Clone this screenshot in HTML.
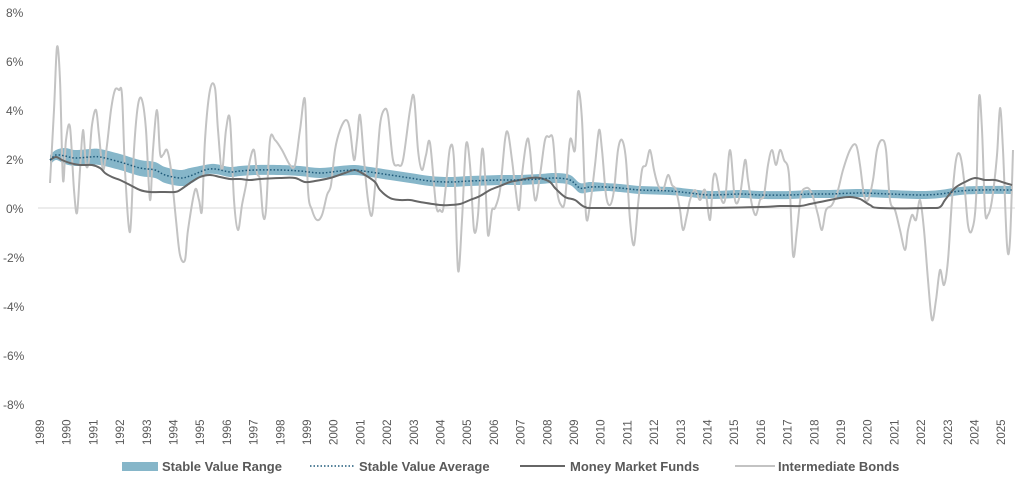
<!DOCTYPE html>
<html><head><meta charset="utf-8"><style>
body{margin:0;background:#fff;width:1024px;height:482px;overflow:hidden;font-family:"Liberation Sans",sans-serif}
</style></head><body>
<svg id="s" width="1024" height="482" xmlns="http://www.w3.org/2000/svg" font-family="Liberation Sans, sans-serif">
<g fill="#595959" font-size="12">
<text x="6" y="17">8%</text><text x="6" y="66">6%</text><text x="6" y="115">4%</text><text x="6" y="164">2%</text><text x="6" y="213">0%</text>
<text x="3" y="262">-2%</text><text x="3" y="311">-4%</text><text x="3" y="360">-6%</text><text x="3" y="409">-8%</text>
</g>
<line x1="38" y1="208" x2="1015" y2="208" stroke="#d9d9d9" stroke-width="1"/>
<g id="yrs" fill="#595959" font-size="11.5"></g>
<path id="band" fill="#86b6c9"/>
<path id="bonds" fill="none" stroke="#c3c3c3" stroke-width="2" stroke-linejoin="round"/>
<path id="mmf" fill="none" stroke="#666" stroke-width="2" stroke-linejoin="round"/>
<path id="avg" fill="none" stroke="#1f5a7a" stroke-width="1.5" stroke-dasharray="1.5,2"/>
<rect x="122" y="462" width="36" height="9" fill="#86b6c9"/>
<line x1="310" y1="466" x2="355" y2="466" stroke="#1f5a7a" stroke-width="1.5" stroke-dasharray="1.5,2"/>
<line x1="520" y1="466" x2="565" y2="466" stroke="#666" stroke-width="2"/>
<line x1="735" y1="466" x2="775" y2="466" stroke="#c3c3c3" stroke-width="2"/>
<g fill="#595959" font-size="13" font-weight="bold">
<text x="162" y="471">Stable Value Range</text>
<text x="359" y="471">Stable Value Average</text>
<text x="570" y="471">Money Market Funds</text>
<text x="778" y="471">Intermediate Bonds</text>
</g>
</svg>
<script>
(function(){
function C(a,start){var d=start?'':'M'+a[0][0]+','+a[0][1];if(start)d='L'+a[0][0]+','+a[0][1];
for(var i=0;i<a.length-1;i++){var p0=a[i-1]||a[i],p1=a[i],p2=a[i+1],p3=a[i+2]||p2;
var c1x=p1[0]+(p2[0]-p0[0])/6,c1y=p1[1]+(p2[1]-p0[1])/6,c2x=p2[0]-(p3[0]-p1[0])/6,c2y=p2[1]-(p3[1]-p1[1])/6;
d+='C'+c1x.toFixed(1)+','+c1y.toFixed(1)+' '+c2x.toFixed(1)+','+c2y.toFixed(1)+' '+p2[0]+','+p2[1];}return d;}
var bonds=[[50,183],[54,110],[57,47],[60,80],[63,180],[66,140],[70,127],[74,190],[77,213],[80,170],[83,130],[86,165],[89,160],[92,125],[96,110],[99,135],[103,170],[107,145],[111,110],[115,90],[119,90],[122,95],[125,170],[130,232],[134,150],[138,105],[142,100],[146,130],[150,200],[153,150],[157,110],[160,153],[163,155],[167,150],[171,170],[176,220],[180,255],[185,260],[188,230],[195,190],[199,200],[202,210],[205,140],[210,90],[215,88],[218,130],[222,170],[226,130],[230,120],[234,200],[238,230],[242,205],[246,185],[250,160],[254,150],[257,173],[260,180],[263,215],[266,210],[270,140],[275,140],[282,150],[290,165],[295,165],[300,130],[305,100],[308,190],[312,210],[317,220],[322,215],[327,195],[331,185],[335,150],[340,130],[346,120],[350,130],[354,160],[357,140],[360,115],[364,160],[368,200],[372,215],[376,175],[380,125],[384,110],[388,115],[393,160],[398,165],[403,160],[410,110],[414,97],[418,150],[422,170],[426,155],[430,143],[436,205],[440,210],[443,210],[446,185],[450,148],[454,160],[458,270],[462,220],[466,145],[470,165],[474,230],[478,215],[482,150],[485,175],[488,235],[492,210],[495,208],[500,190],[505,140],[508,133],[512,160],[515,185],[519,210],[522,175],[527,140],[530,150],[535,200],[540,175],[545,140],[549,137],[553,140],[557,190],[561,205],[565,200],[570,140],[575,150],[578,92],[582,120],[586,215],[590,205],[595,165],[599,130],[602,150],[606,195],[610,205],[614,190],[618,150],[622,140],[626,160],[630,220],[634,245],[638,205],[642,170],[646,165],[650,150],[654,170],[658,185],[663,190],[668,175],[672,185],[676,190],[680,210],[683,230],[687,215],[690,200],[695,190],[700,200],[705,190],[710,220],[713,180],[716,175],[720,195],[725,200],[730,150],[735,200],[740,195],[745,160],[748,180],[752,205],[756,215],[760,200],[764,195],[768,165],[772,150],[776,165],[780,150],[784,160],[789,175],[793,255],[797,230],[801,195],[806,188],[810,190],[814,200],[818,215],[822,230],[826,210],[832,205],[838,190],[843,170],[850,150],[856,145],[860,165],[864,195],[868,200],[873,180],[877,150],[882,140],[886,150],[890,200],[895,210],[900,230],[905,250],[908,230],[912,215],[916,220],[920,200],[924,230],[928,280],[932,320],[936,300],[940,270],[944,285],[948,260],[952,200],[956,160],[960,155],[964,180],[968,225],[972,230],[976,200],[979,98],[982,130],[985,210],[988,215],[992,200],[997,155],[1000,108],[1003,150],[1007,245],[1010,240],[1013,150]];
var mmf=[[50,160],[56,157],[62,160],[70,163],[80,165],[92,165],[100,168],[105,173],[112,177],[120,180],[130,185],[140,190],[150,192],[160,192],[175,192],[180,190],[190,183],[200,177],[210,175],[220,177],[230,179],[240,179],[250,180],[260,179],[280,178],[295,178],[305,182],[315,181],[330,178],[345,173],[355,170],[365,175],[375,182],[380,190],[390,198],[400,200],[410,200],[420,202],[440,205],[450,205],[460,204],[470,200],[480,196],[490,190],[500,186],[510,182],[520,180],[530,178],[540,178],[550,182],[555,188],[565,197],[575,200],[585,207],[600,208],[700,208],[760,207],[780,206],[800,206],[810,204],[820,202],[830,200],[840,198],[850,197],[860,199],[870,205],[880,208],[930,208],[940,207],[945,200],[955,188],[965,182],[975,178],[985,180],[995,180],[1005,183],[1012,185]];
var avg=[[50,160],[56,155],[65,156],[75,158],[90,157],[100,157],[120,162],[140,168],[155,170],[165,175],[180,178],[190,176],[205,170],[215,169],[230,172],[240,171],[255,170],[280,170],[300,171],[320,173],[340,171],[355,170],[370,172],[390,175],[410,178],[430,181],[450,182],[470,181],[500,180],[520,180],[540,179],[555,178],[570,180],[580,188],[590,187],[605,187],[620,188],[640,190],[670,191],[690,193],[710,195],[740,194],[760,195],[790,195],[810,194],[830,194],[860,193],[890,194],[920,195],[940,194],[960,191],[980,190],[1012,190]];
function w(x){return x<60?5:(x<200?8:(x<600?5:4))}
var up=avg.map(function(p){return [p[0],p[1]-w(p[0])]});
var dn=avg.slice().reverse().map(function(p){return [p[0],p[1]+w(p[0])]});
document.getElementById('band').setAttribute('d',C(up)+C(dn,true)+'Z');
document.getElementById('bonds').setAttribute('d',C(bonds));
document.getElementById('mmf').setAttribute('d',C(mmf));
document.getElementById('avg').setAttribute('d',C(avg));
var g=document.getElementById('yrs');
for(var i=0;i<=36;i++){var x=40+i*26.7+4;var t=document.createElementNS('http://www.w3.org/2000/svg','text');t.setAttribute('transform','translate('+x.toFixed(1)+',445) rotate(-90)');t.textContent=String(1989+i);g.appendChild(t);}
})();
</script>
</body></html>
